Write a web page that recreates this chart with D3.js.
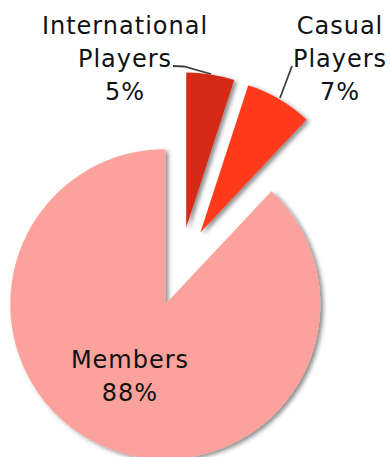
<!DOCTYPE html>
<html><head><meta charset="utf-8">
<script src="https://cdn.jsdelivr.net/npm/d3@7"></script>
<style>body{margin:0;background:#fff}svg{display:block}</style>
</head><body>
<svg id="c" width="390" height="457"></svg>
<script>
const categories = ["International Players", "Casual Players", "Members"];
const labelLines = [["International", "Players"], ["Casual", "Players"], ["Members"]];
const values = [5, 7, 88];
const colors = ["#D42A14", "#FF3A1E", "#FCA29C"];

const svg = d3.select("#c");
const cx = 180, cy = 267, R = 155, explode = 40;

const defs = svg.append("defs");
const f = defs.append("filter").attr("id", "sh").attr("x", "-20%").attr("y", "-20%").attr("width", "140%").attr("height", "140%");
f.append("feDropShadow").attr("dx", 3).attr("dy", 2).attr("stdDeviation", 2.2).attr("flood-color", "#000").attr("flood-opacity", 0.45);

const pie = d3.pie().sort(null).value(d => d)(values);
const arc = d3.arc().innerRadius(0).outerRadius(R);
const g = svg.append("g").attr("transform", `translate(${cx},${cy})`);

function off(d) {
  const a = (d.startAngle + d.endAngle) / 2;
  return [explode * Math.sin(a), -explode * Math.cos(a)];
}

g.selectAll("path").data(pie).join("path")
  .attr("d", arc)
  .attr("transform", d => `translate(${off(d)})`)
  .attr("fill", (d, i) => colors[i])
  .attr("filter", "url(#sh)");

// leader lines
const lead = svg.append("g").attr("stroke", "#404040").attr("stroke-width", 1.8).attr("fill", "none");
lead.append("polyline").attr("points", "173,66 184,66.5 211,74");
lead.append("polyline").attr("points", "292,66 280,98");

const font = "'DejaVu Sans', sans-serif";
const fs = 24;
const labelPos = [[125, 34], [340, 34], [130, 368]];
labelPos.forEach((p, i) => {
  const lines = labelLines[i].concat([values[i] + "%"]);
  const t = svg.append("text").attr("text-anchor", "middle")
    .attr("font-family", font).attr("font-size", fs)
    .attr("letter-spacing", 1).attr("fill", "#111");
  lines.forEach((l, j) => {
    t.append("tspan").attr("x", p[0]).attr("y", p[1] + j * 33).text(l);
  });
});
</script>
</body></html>
